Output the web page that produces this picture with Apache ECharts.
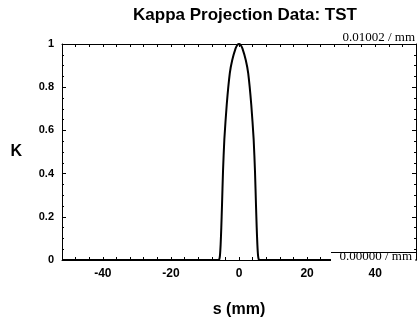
<!DOCTYPE html>
<html>
<head>
<meta charset="utf-8">
<script src="https://cdn.jsdelivr.net/npm/echarts@6/dist/echarts.min.js"></script>
<style>
  html, body { margin: 0; padding: 0; background: #fff; }
  #chart { width: 419px; height: 323px; }
</style>
</head>
<body>
<div id="chart"></div>
<script>
// kappa projection profile
const sValues = [-52, -6.0, -5.8, -5.6, -5.4, -5.2, -5.0, -4.7, -4.3, -3.6, -2.7, -2.0, -1.0, -0.5, 0,
                 0.5, 1.0, 2.0, 2.7, 3.6, 4.3, 4.7, 5.0, 5.2, 5.4, 5.6, 5.8, 6.0, 52];
const kValues = [0, 0, 0.003, 0.02, 0.07, 0.15, 0.25, 0.41, 0.56, 0.72, 0.865, 0.925, 0.98, 0.995, 1.0,
                 0.995, 0.98, 0.925, 0.865, 0.72, 0.56, 0.41, 0.25, 0.15, 0.07, 0.02, 0.003, 0, 0];
const xTickLabels = [-40, -20, 0, 20, 40];
const topNote = '0.01002 / mm';
const bottomNote = '0.00000 / mm';

const chart = echarts.init(document.getElementById('chart'));
const sans = 'Liberation Sans, Arial, sans-serif';
const serif = 'Liberation Serif, Times New Roman, serif';

const xBase = {
    type: 'value',
    min: -52,
    max: 52,
    interval: 4,
    axisLine: { onZero: false, lineStyle: { color: '#000', width: 1 } },
    axisTick: { inside: true, length: 3, lineStyle: { color: '#000' } },
    splitLine: { show: false }
};
const yBase = {
    type: 'value',
    min: 0,
    max: 1,
    interval: 0.2,
    axisLine: { onZero: false, lineStyle: { color: '#000', width: 1 } },
    axisTick: { inside: true, length: 4, lineStyle: { color: '#000' } },
    minorTick: { show: true, splitNumber: 4, length: 2, lineStyle: { color: '#000' } },
    splitLine: { show: false },
    minorSplitLine: { show: false }
};

chart.setOption({
    animation: false,
    backgroundColor: '#fff',
    title: {
        text: 'Kappa Projection Data: TST',
        left: 240,
        textAlign: 'center',
        top: 2,
        textStyle: { fontFamily: sans, fontSize: 17, fontWeight: 'bold', color: '#000' }
    },
    grid: { left: 62, right: 3, top: 44, bottom: 61 },
    xAxis: [
        Object.assign({}, xBase, {
            position: 'bottom',
            name: 's (mm)',
            nameLocation: 'middle',
            nameGap: 42,
            nameTextStyle: { fontFamily: sans, fontSize: 16, fontWeight: 'bold', color: '#000' },
            axisLabel: {
                margin: 8,
                fontFamily: sans, fontSize: 12, fontWeight: 'bold', color: '#000',
                formatter: v => xTickLabels.indexOf(v) >= 0 ? String(v) : ''
            }
        }),
        Object.assign({}, xBase, { position: 'top', axisLabel: { show: false } })
    ],
    yAxis: [
        Object.assign({}, yBase, {
            position: 'left',
            name: 'K',
            nameLocation: 'middle',
            nameRotate: 0,
            nameGap: 40,
            nameTextStyle: { fontFamily: sans, fontSize: 16, fontWeight: 'bold', color: '#000' },
            axisLabel: { margin: 8, fontFamily: sans, fontSize: 11, fontWeight: 'bold', color: '#000' }
        }),
        Object.assign({}, yBase, { position: 'right', axisLabel: { show: false } })
    ],
    series: [{
        type: 'line',
        data: sValues.map((s, i) => [s, kValues[i]]),
        showSymbol: false,
        smooth: 0.2,
        lineStyle: { color: '#000', width: 2 },
        z: 3
    }],
    graphic: [
        {
            type: 'text', right: 4, top: 31, z: 10,
            style: { text: topNote, fontFamily: serif, fontSize: 13, fill: '#000' }
        },
        {
            type: 'rect', left: 331, top: 253, z: 9,
            shape: { width: 84.5, height: 8.5 },
            style: { fill: '#fff' }
        },
        {
            type: 'line', z: 11,
            shape: { x1: 331, y1: 252.5, x2: 416, y2: 252.5 },
            style: { stroke: '#000', lineWidth: 1 }
        },
        {
            type: 'text', right: 7, top: 250, z: 12,
            style: { text: bottomNote, fontFamily: serif, fontSize: 13, fill: '#000' }
        }
    ]
});
</script>
</body>
</html>
